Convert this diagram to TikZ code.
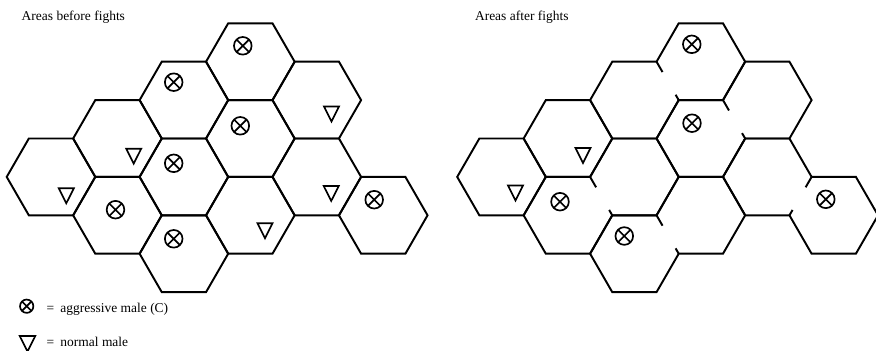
\documentclass[tikz,border=0pt]{standalone}
\usepackage{fontspec}
\setmainfont{Liberation Serif}
\usetikzlibrary{calc,shapes.geometric}
\tikzset{
  wall/.style={line width=0.58mm},
  aggr/.style={circle,draw,line width=0.5mm,minimum size=5.3mm,inner sep=0pt,
    path picture={\draw[line width=0.5mm]
      (path picture bounding box.north west) -- (path picture bounding box.south east)
      (path picture bounding box.north east) -- (path picture bounding box.south west);}},
  norm/.style={regular polygon,regular polygon sides=3,shape border rotate=180,draw,
    line width=0.5mm,minimum size=5.2mm,inner sep=0pt,yscale=1.15},
  lbl/.style={inner sep=0pt,anchor=base west,font=\fontsize{11.5}{13}\selectfont}
}
% one cell, and two cells sharing a removed wall (upper right / lower right)
\newcommand\hexcell[2]{\draw[wall] ({#1-2},#2) -- ({#1-1},{#2-1}) -- ({#1+1},{#2-1})
  -- ({#1+2},#2) -- ({#1+1},{#2+1}) -- ({#1-1},{#2+1}) -- cycle;}
\newcommand\mergeup[2]{\draw[wall] ({#1-2},#2) -- ({#1-1},{#2-1}) -- ({#1+1},{#2-1})
  -- ({#1+2},{#2-2}) -- ({#1+4},{#2-2}) -- ({#1+5},{#2-1}) -- ({#1+4},#2) -- ({#1+2},#2)
  -- ({#1+1},{#2+1}) -- ({#1-1},{#2+1}) -- cycle;}
\newcommand\mergedown[2]{\draw[wall] ({#1-2},#2) -- ({#1-1},{#2-1}) -- ({#1+1},{#2-1})
  -- ({#1+2},#2) -- ({#1+4},#2) -- ({#1+5},{#2+1}) -- ({#1+4},{#2+2}) -- ({#1+2},{#2+2})
  -- ({#1+1},{#2+1}) -- ({#1-1},{#2+1}) -- cycle;}
\newcommand\wallgap[4]{\draw[wall] (#1,#2) -- ($(#1,#2)!0.27!(#3,#4)$)
  ($(#3,#4)!0.14!(#1,#2)$) -- (#3,#4);}

\begin{document}
\begin{tikzpicture}[x=0.3mm,y=-0.3mm]
\useasboundingbox (0,0) rectangle (876,350);

\node[lbl] (before) at (21.5,20) {Areas before fights};
\node[lbl] (after) at (474.8,20) {Areas after fights};

\begin{scope}[shift={(6.7,23.3)},x=6.645mm,y=-11.52mm]
  \foreach \u/\k in {2/4,5/3,5/5,8/2,8/4,8/6,11/1,11/3,11/5,14/2,14/4,17/5}
    {\hexcell{\u}{\k}}
\end{scope}

\begin{scope}[shift={(457.2,23.3)},x=6.645mm,y=-11.52mm]
  \hexcell{2}{4}
  \hexcell{5}{3}
  \foreach \u/\k in {5/5,8/6,8/2,11/3}
    {\mergeup{\u}{\k}}
  \mergedown{14}{4}
  \foreach \a/\b/\c/\d in {6/4/7/5,9/1/10/2,12/2/13/3,9/5/10/6,16/4/15/5}
    {\wallgap{\a}{\b}{\c}{\d}}
\end{scope}

\foreach \n/\x/\y in {lG/242.8/45.8,lD/173.7/82.2,lH/240.3/125.8,lE/173.7/163.3,
    lC/115.5/209.7,lF/173.7/238.8,lL/374.2/199.7,
    rG/691.8/44.3,rH/692/123.2,rC/560/201.7,rF/624.3/236,rL/825.8/199.3}
  \node[aggr] (\n) at (\x,\y) {};
\foreach \n/\x/\y in {lA/66.3/193.3,lB/133.7/153.7,lJ/331.5/111.5,lK/331.2/191,
    lI/265/228.3,rA/515.5/190.5,rB/583/153}
  \node[norm] (\n) at (\x,\y) {};

\node[aggr,minimum size=4mm] (keyC) at (26.7,306.2) {};
\node[norm,minimum size=5.4mm] (keyN) at (27.5,341.2) {};
\node[lbl] (txtC) at (46.3,312) {=\hspace{1.9mm}aggressive male (C)};
\node[lbl] (txtN) at (46.3,346.3) {=\hspace{1.9mm}normal male};
\end{tikzpicture}
\end{document}
